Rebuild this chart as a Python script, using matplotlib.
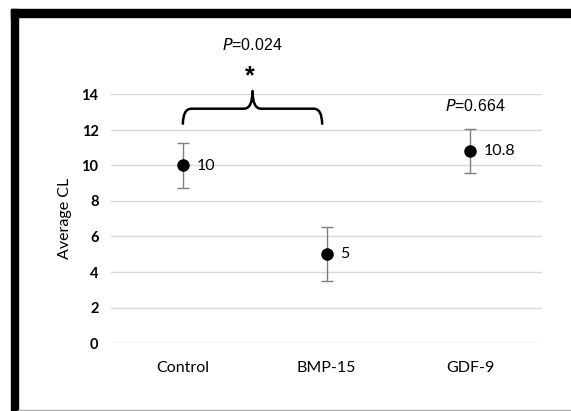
import matplotlib
matplotlib.use("Agg")
import matplotlib.pyplot as plt
from matplotlib.patches import Rectangle, PathPatch
from matplotlib.path import Path

categories = ["Control", "BMP-15", "GDF-9"]
means = [10, 5, 10.8]
errors = [1.27, 1.53, 1.25]
value_labels = ["10", "5", "10.8"]
yticks = [0, 2, 4, 6, 8, 10, 12, 14]

W, H = 571, 411
fig = plt.figure(figsize=(W / 100, H / 100), dpi=100)

def px(x0, y0, x1, y1):
    return [x0 / W, 1 - y1 / H, (x1 - x0) / W, (y1 - y0) / H]

ax = fig.add_axes(px(111, 94.5, 542, 343))
x = list(range(len(categories)))
ax.set_xlim(-0.5, 2.5)
ax.set_ylim(0, 14)
for s in ax.spines.values():
    s.set_visible(False)
ax.set_yticks(yticks)
ax.yaxis.grid(True, color="#d9d9d9", lw=1)
ax.set_axisbelow(True)
ax.tick_params(axis="y", length=0, labelsize=10.5, pad=9)
ax.set_xticks(x)
ax.set_xticklabels(categories, fontsize=11.5, family="Lato")
ax.tick_params(axis="x", length=0, pad=13)
for lab in ax.get_yticklabels():
    lab.set_family("Lato")
    lab.set_fontweight("bold")
ax.set_ylabel("Average CL", fontsize=11.5, family="Lato", labelpad=7)

ax.errorbar(x, means, yerr=errors, fmt="none", ecolor="#7f7f7f", elinewidth=1,
            capsize=4, capthick=1, zorder=2)
ax.plot(x, means, "o", color="black", markersize=8, zorder=3)
for xi, m, lab in zip(x, means, value_labels):
    ax.annotate(lab, (xi, m), xytext=(10, 0), textcoords="offset points",
                va="center", ha="left", fontsize=11.5, family="Lato")

# curly bracket between Control and BMP-15
x0, x1 = 0.0, 0.97
xm = (x0 + x1) / 2
yb, yh, yp = 12.3, 13.2, 14.2
r = 0.06
verts = [(x0, yb), (x0, yh), (x0 + r, yh),
         (xm - r, yh), (xm, yh), (xm, yp),
         (xm, yh), (xm + r, yh),
         (x1 - r, yh), (x1, yh), (x1, yb)]
codes = [Path.MOVETO, Path.CURVE3, Path.CURVE3,
         Path.LINETO, Path.CURVE3, Path.CURVE3,
         Path.CURVE3, Path.CURVE3,
         Path.LINETO, Path.CURVE3, Path.CURVE3]
ax.add_patch(PathPatch(Path(verts, codes), fill=False, lw=1.8, color="black",
                       clip_on=False, capstyle="butt", joinstyle="round"))

fig.text(252 / W, 1 - 45 / H, r"$\it{P}$=0.024", ha="center", va="center",
         fontsize=11.5, family="Liberation Sans")
fig.text(250 / W, 1 - 76 / H, "*", ha="center", va="center",
         fontsize=18, fontweight="bold", family="Liberation Sans")
fig.text(475 / W, 1 - 106 / H, r"$\it{P}$=0.664", ha="center", va="center",
         fontsize=11.5, family="Liberation Sans")

# frame of the original screenshot
fig.patches.append(Rectangle((11 / W, 1 - 17 / H), 1, 8 / H, color="black",
                             transform=fig.transFigure, figure=fig))
fig.patches.append(Rectangle((11 / W, 0), 7 / W, 1 - 9 / H, color="black",
                             transform=fig.transFigure, figure=fig))
fig.patches.append(Rectangle((18 / W, 0), 1, 1.5 / H, color="#aaaaaa",
                             transform=fig.transFigure, figure=fig))

fig.savefig("out.png", dpi=100)
